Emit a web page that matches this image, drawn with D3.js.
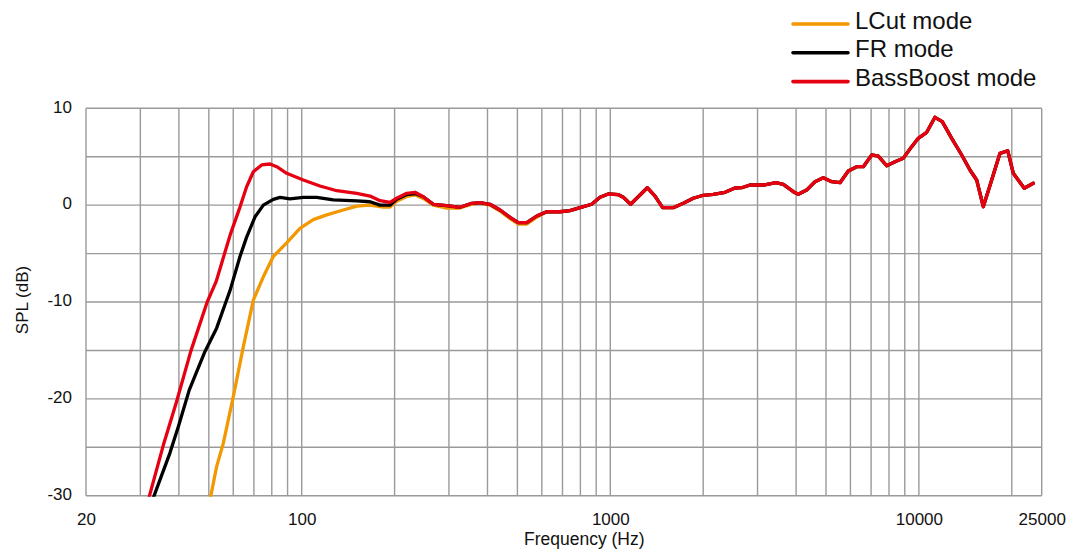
<!DOCTYPE html>
<html>
<head>
<meta charset="utf-8">
<script src="https://cdn.jsdelivr.net/npm/d3@7"></script>
<style>
  body { margin: 0; background: #fff; }
  svg { display: block; font-family: "Liberation Sans", Arial, sans-serif; }
</style>
</head>
<body>
<div id="chart"></div>
<script>
// Low-frequency part of each mode (Hz / dB)
const lcutFreq = [50.4, 53.0, 55.7, 60.0, 64.7, 69.7, 75.1, 80.9, 89.4, 98.7, 109, 120.5, 136.4, 150.8, 166.5, 183.8, 193.3, 203.1, 219, 233, 247.8, 267, 295.1, 325.8, 355.6, 378.2, 407.6, 439.2, 473.2, 503.4, 535.9, 577.4];
const lcutSpl  = [-30.5, -27.0, -24.6, -19.8, -14.6, -9.8, -7.4, -5.3, -3.9, -2.4, -1.5, -1.0, -0.5, -0.1, 0.0, -0.2, -0.2, 0.4, 0.9, 1.05, 0.7, 0.0, -0.3, -0.3, 0.1, 0.2, 0.0, -0.6, -1.4, -1.95, -1.95, -1.25];

const frFreq = [32.8, 37.4, 39.8, 43.2, 48.6, 53.0, 57.1, 58.6, 63.1, 66.3, 70.6, 75.1, 80.9, 85.1, 91.6, 101.2, 111.8, 126.6, 150.8, 166.5, 179.4, 193.3, 203.1, 219, 233, 247.8, 267, 295.1, 325.8, 355.6, 378.2, 407.6, 439.2, 473.2, 503.4, 535.9, 577.4];
const frSpl  = [-30.5, -25.6, -22.9, -19.1, -15.1, -12.7, -9.8, -8.8, -5.3, -3.3, -1.2, 0.0, 0.6, 0.8, 0.65, 0.8, 0.8, 0.55, 0.45, 0.35, 0.0, 0.0, 0.6, 1.1, 1.2, 0.87, 0.09, -0.06, -0.22, 0.19, 0.25, 0.09, -0.5, -1.25, -1.81, -1.81, -1.12];

const bbFreq = [31.8, 35.6, 39.3, 43.7, 49.4, 52.8, 58.6, 63.1, 66.3, 69.7, 74.2, 78.9, 83.0, 89.4, 101.2, 114.6, 129.9, 150.8, 166.5, 179.4, 193.3, 203.1, 219, 233, 247.8, 267, 295.1, 325.8, 355.6, 378.2, 407.6, 439.2, 473.2, 503.4, 535.9, 577.4];
const bbSpl  = [-30.5, -24.8, -20.3, -15.1, -10.0, -7.9, -3.1, -0.2, 1.9, 3.45, 4.15, 4.25, 3.97, 3.29, 2.6, 1.98, 1.49, 1.22, 0.94, 0.46, 0.29, 0.71, 1.22, 1.33, 0.87, 0.09, -0.06, -0.22, 0.19, 0.25, 0.09, -0.5, -1.25, -1.81, -1.81, -1.12];

// Above ~600 Hz all three modes are the same
const sharedFreq = [622, 687, 740, 798, 870, 926, 985, 1062, 1102, 1164, 1248, 1318, 1396, 1478, 1600, 1724, 1857, 2001, 2156, 2354, 2536, 2666, 2836, 3132, 3444, 3636, 3918, 4066, 4328, 4604, 4900, 5218, 5550, 5906, 6288, 6606, 7032, 7388, 7864, 8366, 8898, 9476, 9954, 10600, 11274, 11906, 12776, 13764, 14638, 15388, 16166, 17214, 18312, 19396, 20226, 21954, 23480];
const sharedSpl  = [-0.68, -0.68, -0.57, -0.26, 0.09, 0.81, 1.15, 1.08, 0.81, 0.09, 1.05, 1.8, 0.94, -0.26, -0.26, 0.19, 0.71, 1.02, 1.12, 1.33, 1.77, 1.8, 2.08, 2.08, 2.32, 2.15, 1.39, 1.12, 1.56, 2.42, 2.83, 2.42, 2.32, 3.53, 3.97, 3.97, 5.18, 5.07, 4.07, 4.49, 4.84, 6.04, 6.9, 7.52, 9.07, 8.62, 6.9, 5.18, 3.63, 2.6, -0.16, 2.6, 5.35, 5.62, 3.29, 1.74, 2.26];

const seriesNames = ["LCut mode", "FR mode", "BassBoost mode"];
const seriesColors = ["#f39800", "#000000", "#e60012"];

const xTickValues = [20, 100, 1000, 10000, 25000];
const yTickValues = [10, 0, -10, -20, -30];

const width = 1079;
const height = 556;
const margin = { top: 108.3, right: 37.3, bottom: 60.3, left: 86 };
const innerW = width - margin.left - margin.right;
const innerH = height - margin.top - margin.bottom;

function toPoints(f, s) {
  return f.map((d, i) => ({ f: d, spl: s[i] }));
}
const series = [
  toPoints(lcutFreq.concat(sharedFreq), lcutSpl.concat(sharedSpl)),
  toPoints(frFreq.concat(sharedFreq), frSpl.concat(sharedSpl)),
  toPoints(bbFreq.concat(sharedFreq), bbSpl.concat(sharedSpl))
];

const svg = d3.select("#chart")
  .append("svg")
  .attr("width", width)
  .attr("height", height);

const g = svg.append("g")
  .attr("transform", `translate(${margin.left}, ${margin.top})`);

const x = d3.scaleLog()
  .domain([20, 25000])
  .range([0, innerW]);

const y = d3.scaleLinear()
  .domain([-30, 10])
  .range([innerH, 0]);

// Grid lines
const vGrid = d3.range(20, 100, 10)
  .concat(d3.range(100, 1000, 100))
  .concat(d3.range(1000, 10000, 1000))
  .concat([10000, 20000, 25000]);

g.append("g")
  .selectAll("line")
  .data(vGrid)
  .enter()
  .append("line")
  .attr("x1", d => x(d))
  .attr("x2", d => x(d))
  .attr("y1", 0)
  .attr("y2", innerH)
  .style("stroke", "#9a9a9a")
  .style("stroke-width", 1.4);

g.append("g")
  .selectAll("line")
  .data(d3.range(-30, 11, 5))
  .enter()
  .append("line")
  .attr("x1", 0)
  .attr("x2", innerW)
  .attr("y1", d => y(d))
  .attr("y2", d => y(d))
  .style("stroke", "#9a9a9a")
  .style("stroke-width", 1.4);

// Axes (labels only), plain hyphen minus like the original
const yAxis = g.append("g")
  .call(d3.axisLeft(y).tickValues(yTickValues).tickSize(0).tickPadding(14).tickFormat(d => String(d)));
yAxis.select(".domain").remove();
yAxis.selectAll("text")
  .style("font-size", "17px")
  .style("fill", "#111")
  .attr("dy", "0.22em");

const xAxis = g.append("g")
  .attr("transform", `translate(0, ${innerH})`)
  .call(d3.axisBottom(x).tickValues(xTickValues).tickSize(0).tickPadding(17).tickFormat(d => String(d)));
xAxis.select(".domain").remove();
xAxis.selectAll("text")
  .style("font-size", "17px")
  .style("fill", "#111");

// Axis titles
svg.append("text")
  .attr("x", margin.left + x(1000) - 26)
  .attr("y", 545)
  .attr("text-anchor", "middle")
  .style("font-size", "17.5px")
  .style("fill", "#111")
  .text("Frequency (Hz)");

svg.append("text")
  .attr("transform", "translate(28, 300) rotate(-90)")
  .attr("text-anchor", "middle")
  .style("font-size", "17px")
  .style("fill", "#111")
  .text("SPL (dB)");

// Curves
g.append("clipPath")
  .attr("id", "plot-clip")
  .append("rect")
  .attr("width", innerW)
  .attr("height", innerH + 1);

const line = d3.line()
  .x(d => x(d.f))
  .y(d => y(d.spl));

g.append("g")
  .attr("clip-path", "url(#plot-clip)")
  .selectAll("path")
  .data(series)
  .enter()
  .append("path")
  .attr("d", line)
  .attr("fill", "none")
  .attr("stroke", (d, i) => seriesColors[i])
  .attr("stroke-width", 3.3)
  .attr("stroke-linejoin", "round")
  .attr("stroke-linecap", "round");

// Legend
const legend = svg.append("g")
  .selectAll("g")
  .data(seriesNames)
  .enter()
  .append("g")
  .attr("transform", (d, i) => `translate(793, ${24 + i * 28.8})`);

legend.append("line")
  .attr("x1", 0)
  .attr("x2", 55)
  .attr("y1", 0)
  .attr("y2", 0)
  .attr("stroke", (d, i) => seriesColors[i])
  .attr("stroke-width", 3.6)
  .attr("stroke-linecap", "round");

legend.append("text")
  .attr("x", 62)
  .attr("y", 4.5)
  .style("font-size", "24px")
  .style("fill", "#111")
  .text(d => d);
</script>
</body>
</html>
